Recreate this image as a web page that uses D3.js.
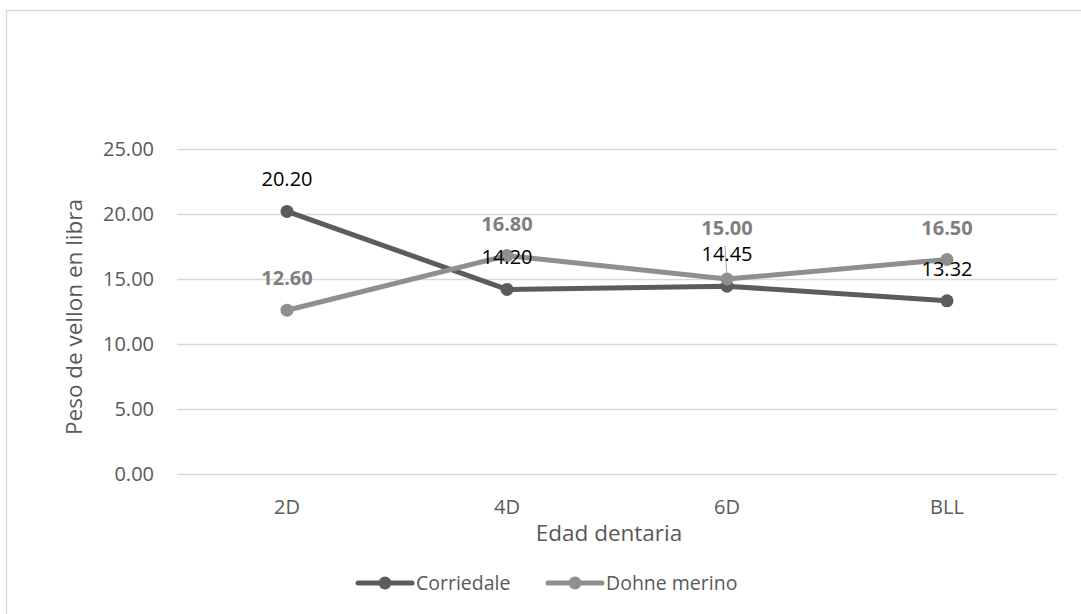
<!DOCTYPE html>
<html>
<head>
<meta charset="utf-8">
<script src="https://cdn.jsdelivr.net/npm/d3@7"></script>
<style>
  body { margin: 0; background: #fff; }
  svg text { font-family: "Open Sans", "Liberation Sans", sans-serif; }
</style>
</head>
<body>
<svg id="chart" width="1081" height="614"></svg>
<script>
// Fleece weight by dental age for two breeds
const categories = ["2D", "4D", "6D", "BLL"];
const corriedale = [20.20, 14.20, 14.45, 13.32];
const dohneMerino = [12.60, 16.80, 15.00, 16.50];
const yTicks = [0, 5, 10, 15, 20, 25];
const seriesNames = ["Corriedale", "Dohne merino"];
// extra vertical lift for labels that were moved off their points
const dohneLabelLift = [0, 0, 19, 0];

const svg = d3.select("#chart");
const W = 1081, H = 614;

// Chart area border
svg.append("rect")
  .attr("x", 6.5).attr("y", 10.5)
  .attr("width", W).attr("height", H)
  .attr("fill", "#fff").attr("stroke", "#d9d9d9").attr("stroke-width", 1.5);

const x = d3.scaleBand().domain(categories).range([177, 1057]);
const y = d3.scaleLinear().domain([0, 25]).range([474, 149]);

// Gridlines
svg.append("g").selectAll("line").data(yTicks).join("line")
  .attr("x1", 177).attr("x2", 1057)
  .attr("y1", d => Math.round(y(d)) + 0.5).attr("y2", d => Math.round(y(d)) + 0.5)
  .attr("stroke", "#d9d9d9").attr("stroke-width", 1.3);

// Y axis labels
const yAxis = d3.axisLeft(y).tickValues(yTicks).tickFormat(d3.format(".2f")).tickSize(0).tickPadding(0);
const gy = svg.append("g").attr("transform", "translate(154,0)").call(yAxis);
gy.select(".domain").remove();
gy.selectAll("text").attr("font-size", 20).attr("fill", "#595959")
  .attr("font-family", "Open Sans, sans-serif");

// X axis labels
const xAxis = d3.axisBottom(x).tickSize(0).tickPadding(0);
const gx = svg.append("g").attr("transform", "translate(0,514)").call(xAxis);
gx.select(".domain").remove();
gx.selectAll("text").attr("font-size", 20).attr("fill", "#595959")
  .attr("font-family", "Open Sans, sans-serif").attr("y", 0).attr("dy", "0");

// Axis titles
svg.append("text").attr("x", 609).attr("y", 541).attr("text-anchor", "middle")
  .attr("font-size", 22.5).attr("fill", "#595959").text("Edad dentaria");
svg.append("text").attr("transform", "translate(82,317) rotate(-90)")
  .attr("text-anchor", "middle").attr("font-size", 22.5).attr("fill", "#595959")
  .text("Peso de vellon en libra");

const cx = d => x(d) + x.bandwidth() / 2;
const line = d3.line().x(d => cx(d.c)).y(d => y(d.v));

const series = [
  { name: seriesNames[0], values: corriedale, color: "#5c5c5c" },
  { name: seriesNames[1], values: dohneMerino, color: "#8f8f8f" }
];

// Leader line for the shifted 6D Dohne label
svg.append("line")
  .attr("x1", cx("6D") - 2).attr("y1", y(dohneMerino[2]) - 33)
  .attr("x2", cx("6D")).attr("y2", y(dohneMerino[2]))
  .attr("stroke", "#a6a6a6").attr("stroke-width", 1);

series.forEach(s => {
  const pts = categories.map((c, i) => ({ c, v: s.values[i] }));
  const g = svg.append("g");
  g.append("path").datum(pts).attr("d", line)
    .attr("fill", "none").attr("stroke", s.color).attr("stroke-width", 5)
    .attr("stroke-linejoin", "round");
  g.selectAll("circle").data(pts).join("circle")
    .attr("cx", d => cx(d.c)).attr("cy", d => y(d.v)).attr("r", 6.5)
    .attr("fill", s.color);
});

// Data labels
svg.append("g").selectAll("text").data(dohneMerino).join("text")
  .attr("x", (d, i) => cx(categories[i]))
  .attr("y", (d, i) => y(d) - 25 - dohneLabelLift[i])
  .attr("text-anchor", "middle").attr("font-size", 20).attr("font-weight", "bold")
  .attr("fill", "#7f7f7f").text(d => d.toFixed(2));

svg.append("g").selectAll("text").data(corriedale).join("text")
  .attr("x", (d, i) => cx(categories[i]))
  .attr("y", d => y(d) - 25)
  .attr("text-anchor", "middle").attr("font-size", 20)
  .attr("fill", "#000").text(d => d.toFixed(2));

// Legend
const legend = svg.append("g").attr("transform", "translate(0,583)");
const legendItems = [
  { x: 358, name: seriesNames[0], color: series[0].color },
  { x: 548, name: seriesNames[1], color: series[1].color }
];
legendItems.forEach(it => {
  legend.append("line").attr("x1", it.x).attr("x2", it.x + 54)
    .attr("y1", 0).attr("y2", 0).attr("stroke", it.color).attr("stroke-width", 5)
    .attr("stroke-linecap", "round");
  legend.append("circle").attr("cx", it.x + 27).attr("cy", 0).attr("r", 6.5).attr("fill", it.color);
  legend.append("text").attr("x", it.x + 58).attr("y", 7).attr("font-size", 19.5)
    .attr("fill", "#595959").text(it.name);
});
</script>
</body>
</html>
